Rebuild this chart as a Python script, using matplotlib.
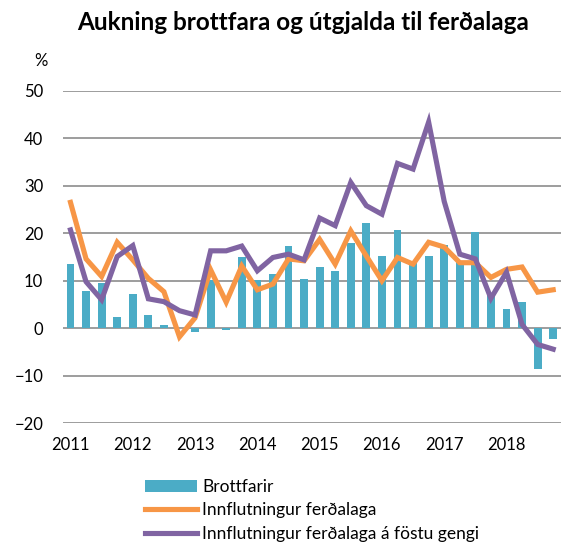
import matplotlib
matplotlib.use("Agg")
import matplotlib.pyplot as plt
import numpy as np
from matplotlib.patches import Patch
from matplotlib.lines import Line2D

plt.rcParams['font.family'] = ['Lato', 'DejaVu Sans']

years = ["2011", "2012", "2013", "2014", "2015", "2016", "2017", "2018"]

brottfarir = [13.5, 7.9, 9.5, 2.4, 7.2, 2.7, 0.6, 0.0,
              -0.8, 10.2, -0.4, 15.1, 10.2, 11.5, 17.4, 10.4,
              12.9, 12.1, 18.0, 22.2, 15.3, 20.6, 13.7, 15.3,
              17.5, 14.0, 20.2, 7.0, 4.1, 5.5, -8.6, -2.3]

innflutningur = [26.5, 14.6, 10.9, 18.1, 14.4, 10.5, 7.7, -1.8,
                 2.2, 12.3, 5.5, 13.1, 8.1, 9.3, 14.6, 14.2,
                 18.7, 13.5, 20.5, 15.2, 10.0, 14.9, 13.5, 18.1,
                 17.1, 13.8, 13.8, 10.7, 12.4, 12.9, 7.6, 8.1]

fast_gengi = [20.7, 9.8, 6.0, 15.1, 17.4, 6.2, 5.6, 3.7,
              2.8, 16.3, 16.3, 17.3, 12.1, 14.9, 15.6, 14.4,
              23.2, 21.6, 30.7, 25.8, 24.0, 34.7, 33.5, 43.4,
              26.7, 15.6, 14.6, 6.3, 11.8, 0.8, -3.4, -4.4]

labels = ["Brottfarir", "Innflutningur ferðalaga", "Innflutningur ferðalaga á föstu gengi"]

c_bar = "#4BACC6"
c_or = "#F79646"
c_pu = "#8064A2"
c_grid = "#8C8C8C"

fig = plt.figure(figsize=(5.65, 5.44), dpi=100)
ax = fig.add_axes([62.7/565, 1-423.3/544, (561-62.7)/565, (423.3-90.7)/544])

x = np.arange(len(brottfarir))
ax.bar(x, brottfarir, width=0.5, color=c_bar, zorder=2)
ax.plot(x, innflutningur, color=c_or, lw=3.7, zorder=3, solid_joinstyle='miter')
ax.plot(x, fast_gengi, color=c_pu, lw=3.7, zorder=4, solid_joinstyle='miter')

ax.set_xlim(-0.5, len(x) - 0.5)
ax.set_ylim(-20, 50)
ax.set_yticks(np.arange(-20, 51, 10))
ax.yaxis.grid(True, color=c_grid, lw=1.2, zorder=1)
ax.set_axisbelow(True)
for s in ax.spines.values():
    s.set_visible(False)
ax.set_xticks(np.arange(0, len(x), 4))
ax.set_xticklabels(years)
ax.tick_params(axis='both', length=0, labelsize=12, colors='black')
ax.tick_params(axis='y', pad=14)
ax.tick_params(axis='x', pad=10)

fig.text(40.5/565, 1-61/544, "%", ha='center', va='center', fontsize=12)
fig.text(303/565, 1-22/544, "Aukning brottfara og útgjalda til ferðalaga",
         ha='center', va='center', fontsize=17.5, fontweight='bold')

handles = [Patch(facecolor=c_bar, edgecolor='none'),
           Line2D([0], [0], color=c_or, lw=3.7),
           Line2D([0], [0], color=c_pu, lw=3.7)]
fig.legend(handles, labels, loc='upper left', bbox_to_anchor=(145/565, 1-479/544),
           frameon=False, fontsize=12.5, handlelength=3.0, handleheight=0.7,
           handletextpad=0.3, labelspacing=0.42, borderpad=0, borderaxespad=0)

fig.savefig("out.png", dpi=100)
